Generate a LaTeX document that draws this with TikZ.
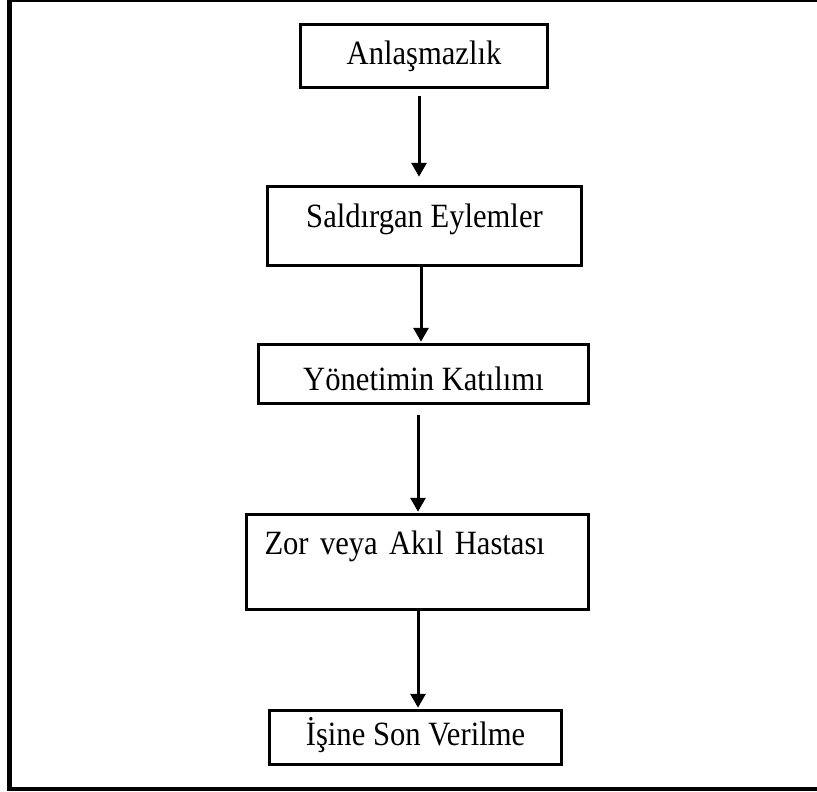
\documentclass[tikz,border=0pt]{standalone}
\usepackage{fontspec}
\setmainfont{Liberation Serif}[FakeStretch=0.9]
\usetikzlibrary{arrows.meta}

\begin{document}
\begin{tikzpicture}[x=1pt,y=-1pt,
  kutu/.style={draw, line width=3.5pt, inner sep=0pt, text height=22pt,
    font=\fontsize{34}{40}\selectfont},
  ok/.style={line width=3pt, -{Triangle[length=14pt,width=15pt]}}]
\useasboundingbox (0,0) rectangle (817,792);

% Outer frame (right side runs off the page)
\draw[line width=4.3pt] (817,0) -- (9.5,0) -- (9.5,789) -- (817,789);

% Boxes, top to bottom
\node[kutu, minimum width=247pt, minimum height=63pt, text depth=4pt] (anl) at (424,56) {Anlaşmazlık};

\node[kutu, minimum width=314pt, minimum height=79pt, text depth=20pt] (sald) at (424.5,226) {Saldırgan Eylemler};

\node[kutu, minimum width=330pt, minimum height=59pt, text height=40pt, text depth=8pt] (yon) at (423.5,374) {Yönetimin Katılımı};

\node[kutu, minimum width=342pt, minimum height=95pt, text depth=38pt,
  text width=306pt, inner xsep=18pt, align=left] (zor) at (417.5,562) {Zor veya Akıl Hastası};

\node[kutu, minimum width=292pt, minimum height=54pt, text depth=7pt] (isine) at (415.5,737.5) {İşine Son Verilme};

% Arrows
\draw[ok] ([xshift=-5pt,yshift=-7pt]anl.south) -- ([xshift=-5.5pt,yshift=8pt]sald.north);
\draw[ok] ([xshift=-3.5pt]sald.south) -- ([xshift=-2.5pt,yshift=1pt]yon.north);
\draw[ok] ([xshift=-5.5pt,yshift=-10pt]yon.south) -- ([xshift=0.5pt,yshift=1pt]zor.north);
\draw[ok] ([xshift=0.5pt]zor.south) -- ([xshift=2.5pt,yshift=1pt]isine.north);
\end{tikzpicture}
\end{document}
